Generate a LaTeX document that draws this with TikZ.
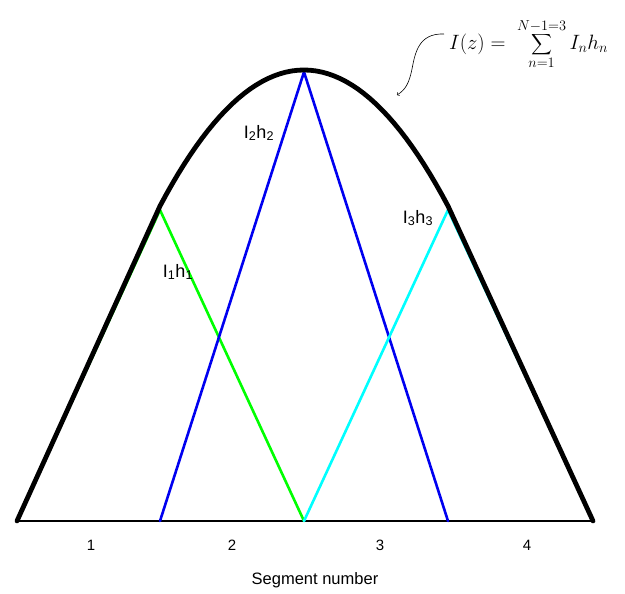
\documentclass[tikz,border=0pt]{standalone}
\usepackage{fontspec}
\setmainfont{Liberation Sans}
\usepackage{tikz}
\usetikzlibrary{arrows, positioning, calc}
\definecolor{aqua}{RGB}{0,255,255}
\definecolor{lime}{RGB}{0,255,0}
\definecolor{deepblue}{RGB}{0,0,240}
\newcommand{\bigsum}{\mathop{\vcenter{\hbox{\scalebox{1.45}{$\displaystyle\sum$}}}}\limits}

\begin{document}
\begin{tikzpicture}[
        x=1pt, y=1pt,
        total/.style={line width=4.8pt, black, line cap=round, line join=round},
        basis/.style={line width=2.6pt, line cap=round, line join=round},
        axisline/.style={line width=1.1pt, black},
        seglabel/.style={inner sep=1pt, font=\fontsize{15}{17}\selectfont},
        coeff/.style={inner sep=1pt, font=\fontsize{18}{20}\selectfont},
        arrow/.style={semithick, ->, >=to}
    ]
    \useasboundingbox (0,0) rectangle (625,594);

    % --- SEGMENT ENDS ---
    \coordinate (z0) at (17,73);
    \coordinate (z1) at (160,73);
    \coordinate (z2) at (304,73);
    \coordinate (z3) at (448,73);
    \coordinate (z4) at (593,73);

    % --- PEAKS ---
    \coordinate (pk1) at (160,384);
    \coordinate (pk2) at (304,522);
    \coordinate (pk3) at (448,384);

    % --- AXIS ---
    \draw [axisline] (z0) -- (z4);

    % --- BASIS FUNCTIONS ---
    \draw [basis, lime] (z0) -- (pk1) -- (z2);
    \draw [basis, deepblue] (z1) -- (pk2) -- (z3);
    \draw [basis, aqua] (z2) -- (pk3) -- (z4);

    % --- TOTAL CURRENT ---
    \draw [total] (z0) -- plot [domain=160:448, samples=49] (\x, {524-65.59*((\x-304)/100)^2}) -- (z4);

    % --- LABELS ---
    \node (l1) [coeff] at (178,322) {I\textsubscript{1}h\textsubscript{1}};
    \node (l2) [coeff] at (259,461) {I\textsubscript{2}h\textsubscript{2}};
    \node (l3) [coeff] at (418,376) {I\textsubscript{3}h\textsubscript{3}};

    \node (n1) [seglabel] at (91,49) {1};
    \node (n2) [seglabel] at (232,49) {2};
    \node (n3) [seglabel] at (380,49) {3};
    \node (n4) [seglabel] at (527,49) {4};
    \node (xlabel) [inner sep=1pt, font=\fontsize{16.5}{19}\selectfont] at (315,14) {Segment number};

    % --- FORMULA ---
    \node (sumeq) [anchor=west, inner sep=0pt, font=\fontsize{20}{24}\selectfont] at (449,550)
        {$\displaystyle I(z) = \;\bigsum_{n=1}^{N-1=3} I_n h_n$};
    \coordinate (tail) at (444,560);
    \coordinate (tip) at (397,499);
    \draw [arrow] (tail) .. controls (418,561) and (415,540) .. (412,525) .. controls (409,510) and (405,504) .. (tip);

\end{tikzpicture}
\end{document}
